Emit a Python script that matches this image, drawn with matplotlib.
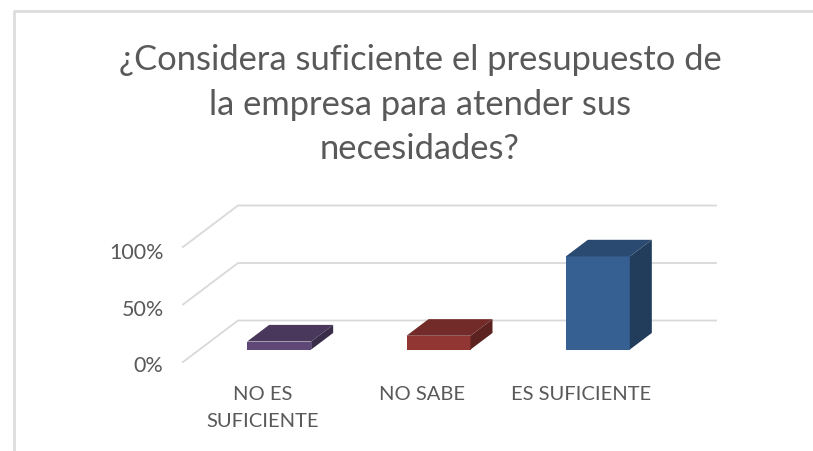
import matplotlib
matplotlib.use("Agg")
import matplotlib.pyplot as plt
from matplotlib.lines import Line2D
from matplotlib.patches import Polygon
from matplotlib.ticker import PercentFormatter
from matplotlib.transforms import ScaledTranslation

plt.rcParams['font.family'] = ['Lato', 'DejaVu Sans']

title_lines = ["¿Considera suficiente el presupuesto de",
               "la empresa para atender sus",
               "necesidades?"]
categories = ["NO ES\nSUFICIENTE", "NO SABE", "ES SUFICIENTE"]
values = [0.07, 0.12, 0.81]
y_ticks = [0.0, 0.5, 1.0]
front_colors = ["#5F4878", "#923634", "#376092"]
top_colors = ["#49385C", "#722B29", "#2B4A71"]
side_colors = ["#3A2D4A", "#5B2220", "#223C5C"]

W, H = 813, 451
GRID = "#D9D9D9"
TEXT = "#595959"
# Front plane of the pseudo-3D plot, in pixels
L, R, Y0, Y100 = 183, 661, 362, 247
fig = plt.figure(figsize=(W / 100, H / 100), dpi=100, facecolor="white")
ax = fig.add_axes([L / W, 1 - Y0 / H, (R - L) / W, (Y0 - Y100) / H])
ax.set_xlim(-0.5, 2.5)
ax.set_ylim(0, 1)
ax.patch.set_visible(False)
for s in ax.spines.values():
    s.set_visible(False)

# depth vector of the floor, in data units
DX = 55 / ((R - L) / 3)
DY = 41.5 / (Y0 - Y100)
BAR_START, BAR_END = 0.30, 0.70   # fractions of the floor depth
BAR_W = 64 / ((R - L) / 3)


def proj(x, y, d):
    return (x + DX * d, y + DY * d)


# walls: gridlines
for t in y_ticks:
    ax.add_line(Line2D(*zip(proj(-0.5, t, 0), proj(-0.5, t, 1), proj(2.5, t, 1)),
                       color=GRID, lw=1.3, clip_on=False, zorder=1))

# bars
for i, v in enumerate(values):
    x0, x1 = i - BAR_W / 2, i + BAR_W / 2
    a, b = BAR_START, BAR_END
    ax.add_patch(Polygon([proj(x0, 0, a), proj(x1, 0, a), proj(x1, v, a), proj(x0, v, a)],
                         fc=front_colors[i], ec="none", clip_on=False, zorder=3))
    ax.add_patch(Polygon([proj(x0, v, a), proj(x1, v, a), proj(x1, v, b), proj(x0, v, b)],
                         fc=top_colors[i], ec="none", clip_on=False, zorder=3))
    ax.add_patch(Polygon([proj(x1, 0, a), proj(x1, 0, b), proj(x1, v, b), proj(x1, v, a)],
                         fc=side_colors[i], ec="none", clip_on=False, zorder=3))

ax.set_xticks(range(len(categories)), categories)
ax.set_yticks(y_ticks)
ax.yaxis.set_major_formatter(PercentFormatter(1.0, decimals=0))
ax.tick_params(axis="x", length=0, labelsize=14.5, labelcolor=TEXT, pad=17)
ax.tick_params(axis="y", length=0, labelsize=15.5, labelcolor=TEXT, pad=14)
for lab in ax.get_xticklabels():
    lab.set_linespacing(1.75)
for lab, dy in zip(ax.get_yticklabels(), [2, 3, 4]):
    lab.set_transform(lab.get_transform() + ScaledTranslation(0, -dy / 100, fig.dpi_scale_trans))

# chart frame (left and top edges)
fig.add_artist(Line2D([14 / W, 14 / W, 1], [0, 1 - 11 / H, 1 - 11 / H],
                      color="#DDDDDD", lw=2.0, transform=fig.transFigure))

# title
for line, y in zip(title_lines, [70, 115, 159]):
    fig.text(420 / W, 1 - y / H, line, ha="center", va="baseline", fontsize=24.8, color=TEXT)

fig.savefig("out.png", dpi=100, facecolor="white")
